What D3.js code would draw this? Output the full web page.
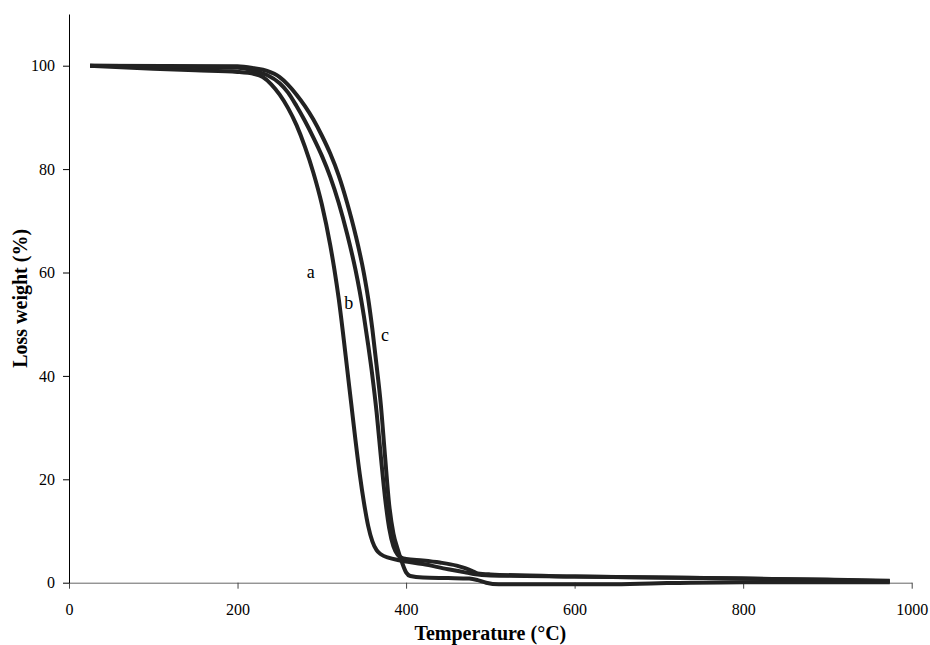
<!DOCTYPE html>
<html>
<head>
<meta charset="utf-8">
<script src="https://cdn.jsdelivr.net/npm/d3@7"></script>
<style>
  html, body { margin: 0; padding: 0; background: #fff; }
  svg text { font-family: "Liberation Serif", "Times New Roman", serif; fill: #000; }
</style>
</head>
<body>
<div id="chart"></div>
<script>
// Datos (temperatura en °C, peso en %)
const tempA = [25, 100, 150, 200, 220, 230, 240, 250, 260, 270, 280, 290, 300, 310, 315, 320, 325, 330, 335, 340, 345, 350, 355, 360, 365, 370, 380, 390, 420, 450, 470, 480, 490, 500, 600, 700, 800, 900, 974];
const pesoA = [100, 99.4, 99.1, 98.8, 98.4, 97.8, 96.4, 94.4, 91.8, 88.5, 84.3, 79.3, 73.2, 65.3, 60.5, 55.0, 48.5, 41.5, 34.5, 27.5, 21.0, 15.5, 11.0, 8.0, 6.3, 5.5, 4.8, 4.4, 3.6, 2.6, 2.0, 1.7, 1.5, 1.4, 1.2, 1.0, 0.8, 0.5, 0.3];

const tempB = [25, 100, 200, 220, 235, 250, 260, 270, 280, 290, 300, 310, 320, 330, 340, 345, 350, 355, 360, 365, 370, 375, 380, 385, 390, 395, 400, 420, 440, 460, 470, 478, 485, 500, 600, 700, 800, 900, 974];
const pesoB = [100, 99.9, 99.6, 99.0, 98.2, 96.6, 94.8, 92.2, 89.3, 86.1, 82.6, 78.5, 73.5, 67.5, 60.5, 56.3, 51.5, 46.0, 40.0, 33.0, 24.5, 16.5, 10.5, 7.0, 5.4, 4.8, 4.6, 4.3, 3.9, 3.3, 2.8, 2.3, 1.8, 1.6, 1.2, 1.0, 0.8, 0.6, 0.4];

const tempC = [25, 200, 220, 235, 250, 260, 270, 280, 290, 300, 310, 320, 330, 340, 350, 355, 360, 365, 370, 375, 380, 385, 390, 395, 400, 405, 420, 450, 475, 485, 495, 510, 640, 700, 800, 974];
const pesoC = [100, 99.9, 99.5, 99.0, 97.8, 96.3, 94.4, 92.2, 89.6, 86.5, 83.0, 78.8, 73.5, 67.3, 59.8, 55.0, 49.0, 42.0, 34.5, 24.5, 15.0, 9.5, 6.5, 4.0, 2.0, 1.3, 1.0, 0.9, 0.8, 0.5, 0.0, -0.3, -0.3, -0.1, 0.1, 0.1];

// Etiquetas de cada curva y su posicion en unidades de datos
const nombres = ["a", "b", "c"];
const etiquetaT = [287, 332, 375];
const etiquetaW = [59.9, 53.9, 47.7];

const ticksX = [0, 200, 400, 600, 800, 1000];
const ticksY = [0, 20, 40, 60, 80, 100];

const width = 930, height = 645;

const svg = d3.select("#chart")
  .append("svg")
    .attr("width", width)
    .attr("height", height);

// Escalas
const xScale = d3.scaleLinear().domain([0, 1000]).range([69, 911.7]);
const yScale = d3.scaleLinear().domain([0, 110]).range([582.7, 14]);

// Eje X
const xAxis = svg.append("g")
  .attr("transform", `translate(0,${yScale(0)})`)
  .call(d3.axisBottom(xScale).tickValues(ticksX).tickFormat(d3.format("d"))
    .tickSize(6).tickSizeOuter(0).tickPadding(15));
xAxis.select(".domain").attr("stroke", "#666");
xAxis.selectAll(".tick line").attr("stroke", "#444");
xAxis.selectAll("text").attr("font-size", 16);

// Eje Y
const yAxis = svg.append("g")
  .attr("transform", `translate(${xScale(0)},0)`)
  .call(d3.axisLeft(yScale).tickValues(ticksY).tickSize(6).tickSizeOuter(0).tickPadding(8));
yAxis.selectAll("text").attr("font-size", 16);

// Titulos de los ejes
svg.append("text")
  .attr("x", (xScale(0) + xScale(1000)) / 2)
  .attr("y", 640)
  .attr("text-anchor", "middle")
  .attr("font-size", 20)
  .attr("font-weight", "bold")
  .text("Temperature (°C)");

svg.append("text")
  .attr("transform", `translate(27,${(yScale(0) + yScale(110)) / 2}) rotate(-90)`)
  .attr("text-anchor", "middle")
  .attr("font-size", 20)
  .attr("font-weight", "bold")
  .text("Loss weight (%)");

// Curvas
const series = [
  tempA.map((t, i) => ({x: t, y: pesoA[i]})),
  tempB.map((t, i) => ({x: t, y: pesoB[i]})),
  tempC.map((t, i) => ({x: t, y: pesoC[i]}))
];

const line = d3.line()
  .x(d => xScale(d.x))
  .y(d => yScale(d.y))
  .curve(d3.curveMonotoneX);

svg.append("g")
  .selectAll("path")
  .data(series)
  .enter()
  .append("path")
    .attr("d", line)
    .attr("fill", "none")
    .attr("stroke", "#222")
    .attr("stroke-width", 4)
    .attr("stroke-linejoin", "round");

// Etiquetas a, b, c
svg.append("g")
  .selectAll("text")
  .data(nombres)
  .enter()
  .append("text")
    .attr("x", (d, i) => xScale(etiquetaT[i]))
    .attr("y", (d, i) => yScale(etiquetaW[i]))
    .attr("dy", "0.3em")
    .attr("text-anchor", "middle")
    .attr("font-size", 18)
    .text(d => d);
</script>
</body>
</html>
